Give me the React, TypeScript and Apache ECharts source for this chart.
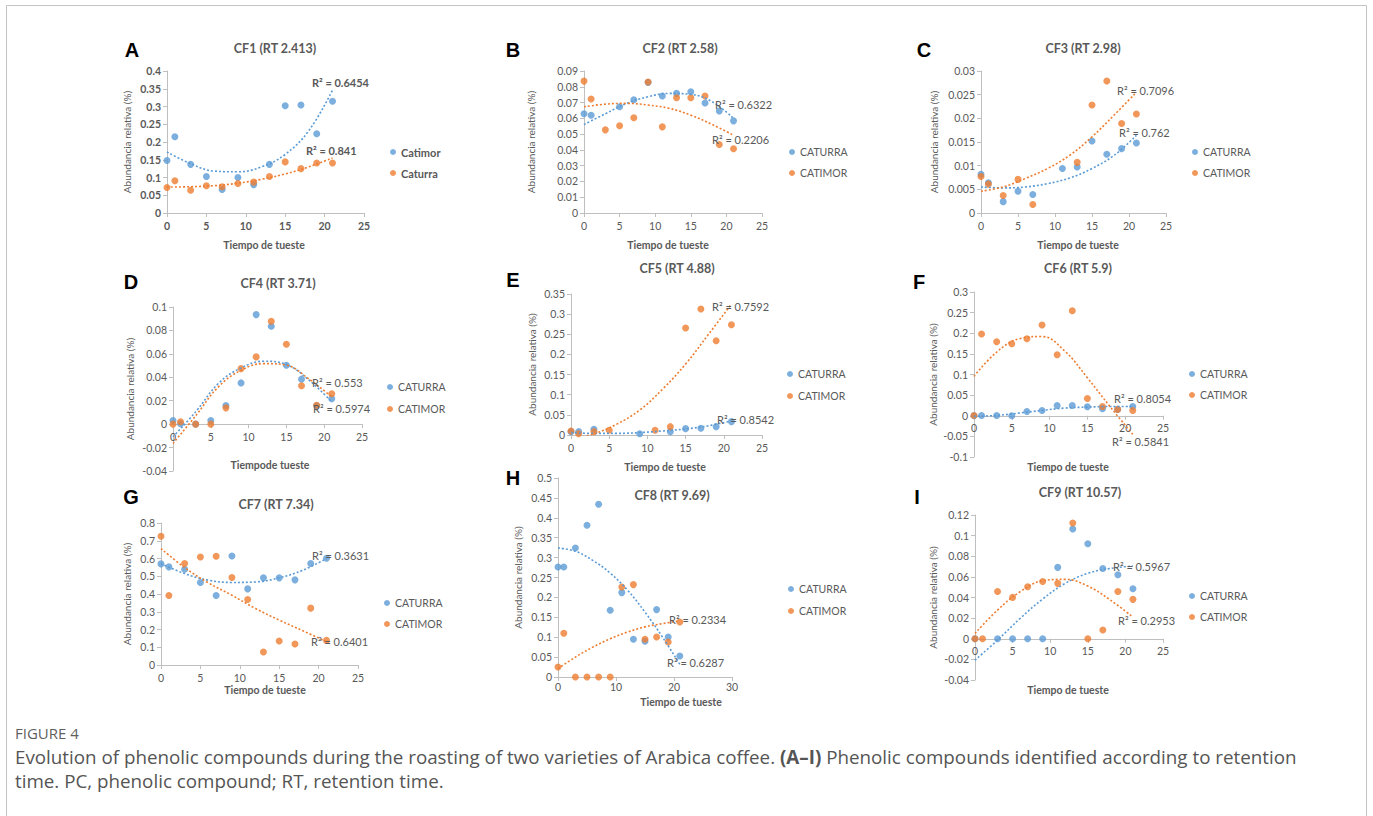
import React, { useEffect, useRef } from "react";
import * as echarts from "echarts";

// ---------- data ----------
const roastTimes = [0, 1, 3, 5, 7, 9, 11, 13, 15, 17, 19, 21];
const trendTimes = [0, 3, 6, 9, 12, 15, 18, 21];

// CF1 (A) – blue = Catimor, orange = Caturra
const cf1Catimor = [0.148, 0.215, 0.137, 0.103, 0.066, 0.1, 0.08, 0.137, 0.302, 0.304, 0.223, 0.315];
const cf1Caturra = [0.072, 0.091, 0.064, 0.077, 0.074, 0.083, 0.087, 0.103, 0.144, 0.125, 0.141, 0.141];
const cf1CatimorTrend = [0.172, 0.139, 0.118, 0.116, 0.13, 0.165, 0.232, 0.346];
const cf1CaturraTrend = [0.073, 0.074, 0.077, 0.084, 0.095, 0.11, 0.13, 0.155];

// CF2 (B)
const cf2Caturra = [0.0629, 0.062, null, 0.0673, 0.0718, 0.0828, 0.0741, 0.0758, 0.0769, 0.0697, 0.0646, 0.0584];
const cf2Catimor = [0.0836, 0.0722, 0.0527, 0.0553, 0.0604, 0.083, 0.0546, 0.0731, 0.0731, 0.0741, 0.0434, 0.0407];
const cf2CaturraTrend = [0.0561, 0.0629, 0.0695, 0.0737, 0.0758, 0.0752, 0.0705, 0.06];
const cf2CatimorTrend = [0.0673, 0.069, 0.0695, 0.0684, 0.0663, 0.062, 0.0561, 0.0493];

// CF3 (C)
const cf3Caturra = [0.0082, 0.0064, 0.0024, 0.0046, 0.0039, null, 0.0094, 0.0097, 0.0152, 0.0124, 0.0136, 0.0148];
const cf3Catimor = [0.0077, 0.0061, 0.0037, 0.0071, 0.0018, null, null, 0.0107, 0.0228, 0.0279, 0.0189, 0.0209];
const cf3CaturraTrend = [0.0055, 0.0053, 0.0055, 0.0062, 0.0074, 0.0094, 0.0122, 0.0164];
const cf3CatimorTrend = [0.0046, 0.0055, 0.0073, 0.0094, 0.0122, 0.0161, 0.0207, 0.0255];

// CF4 (D)
const cf4Caturra = [0.0031, 0.0003, 0, 0.0031, 0.0159, 0.0352, 0.0935, 0.0835, 0.0503, 0.0384, 0.0156, 0.0216];
const cf4Catimor = [0, 0.002, 0, 0, 0.0139, 0.0474, 0.0574, 0.0878, 0.0682, 0.0327, 0.0162, 0.0259];
const cf4CaturraTrend = [-0.0108, 0.0105, 0.0347, 0.048, 0.0537, 0.0509, 0.0375, 0.019];
const cf4CatimorTrend = [-0.0165, 0.0071, 0.0318, 0.046, 0.0517, 0.0503, 0.0384, 0.0233];

// CF5 (E)
const cf5Caturra = [0.0083, 0.0083, 0.0141, null, null, 0.0033, null, 0.0083, 0.0158, 0.0166, 0.0207, 0.0332];
const cf5Catimor = [0.01, 0.0033, 0.0083, 0.0116, null, null, 0.0116, 0.0207, 0.2654, 0.3127, 0.2339, 0.2737];
const cf5CaturraTrend = [0.006, 0.004, 0.004, 0.006, 0.01, 0.015, 0.023, 0.035];
const cf5CatimorTrend = [-0.01, 0.003, 0.027, 0.062, 0.114, 0.176, 0.25, 0.325];

// CF6 (F)
const cf6Caturra = [0, 0.0008, 0.0008, 0, 0.0105, 0.0129, 0.025, 0.025, 0.0218, 0.017, 0.0154, 0.0226];
const cf6Catimor = [0.0008, 0.198, 0.1795, 0.1747, 0.1868, 0.22, 0.148, 0.2547, 0.042, 0.0226, 0.0154, 0.0129];
const cf6CaturraTrend = [-0.0016, 0.0008, 0.0065, 0.013, 0.0186, 0.021, 0.0226, 0.0226];
const cf6CatimorTrend = [0.0954, 0.1544, 0.1868, 0.192, 0.157, 0.092, 0.022, -0.045];

// CF7 (G)
const cf7Caturra = [0.5696, 0.5527, 0.5396, 0.4646, 0.3916, 0.6145, 0.429, 0.4909, 0.4909, 0.4796, 0.5714, 0.6014];
const cf7Catimor = [0.725, 0.3916, 0.5714, 0.6089, 0.6126, 0.4927, 0.369, 0.073, 0.1349, 0.118, 0.3204, 0.1386];
const cf7CaturraTrend = [0.571, 0.515, 0.478, 0.465, 0.468, 0.491, 0.534, 0.6];
const cf7CatimorTrend = [0.656, 0.549, 0.463, 0.393, 0.318, 0.253, 0.193, 0.131];

// CF8 (H)
const cf8Caturra = [0.2765, 0.2765, 0.3243, 0.3813, 0.434, 0.1676, 0.212, 0.0947, 0.0897, 0.1693, 0.1006, 0.0528];
const cf8Catimor = [0.0251, 0.1098, 0, 0, 0, 0, 0.2263, 0.2321, 0.0947, 0.1006, 0.088, 0.1383];
const cf8CaturraTrend = [0.3243, 0.316, 0.293, 0.261, 0.218, 0.163, 0.1006, 0.032];
const cf8CatimorTrend = [0.021, 0.05, 0.075, 0.096, 0.113, 0.126, 0.134, 0.141];

// CF9 (I)
const cf9Caturra = [0, null, 0, 0, 0, 0, 0.0692, 0.1064, 0.0922, 0.0682, 0.0621, 0.0485];
const cf9Catimor = [0, 0, 0.0459, 0.0401, 0.0505, 0.0556, 0.0537, 0.1122, 0, 0.0084, 0.0459, 0.0382];
const cf9CaturraTrend = [-0.0207, -0.0013, 0.0197, 0.0385, 0.0537, 0.0634, 0.0682, 0.0705];
const cf9CatimorTrend = [0.0052, 0.0278, 0.0456, 0.0563, 0.0576, 0.0511, 0.0375, 0.021];

const panelLetters = ["A", "B", "C", "D", "E", "F", "G", "H", "I"];
const panelTitles = [
  "CF1 (RT 2.413)", "CF2 (RT 2.58)", "CF3 (RT 2.98)",
  "CF4 (RT 3.71)", "CF5 (RT 4.88)", "CF6 (RT 5.9)",
  "CF7 (RT 7.34)", "CF8 (RT 9.69)", "CF9 (RT 10.57)",
];
const xAxisNames = [
  "Tiempo de tueste", "Tiempo de tueste", "Tiempo de tueste",
  "Tiempode tueste", "Tiempo de tueste", "Tiempo de tueste",
  "Tiempo de tueste", "Tiempo de tueste", "Tiempo de tueste",
];
const yAxisName = "Abundancia relativa (%)";
const r2Blue = [0.6454, 0.6322, 0.762, 0.553, 0.8542, 0.8054, 0.3631, 0.6287, 0.5967];
const r2Orange = [0.841, 0.2206, 0.7096, 0.5974, 0.7592, 0.5841, 0.6401, 0.2334, 0.2953];
const blueNames = ["Catimor", "CATURRA", "CATURRA", "CATURRA", "CATURRA", "CATURRA", "CATURRA", "CATURRA", "CATURRA"];
const orangeNames = ["Caturra", "CATIMOR", "CATIMOR", "CATIMOR", "CATIMOR", "CATIMOR", "CATIMOR", "CATIMOR", "CATIMOR"];
const blueValues = [cf1Catimor, cf2Caturra, cf3Caturra, cf4Caturra, cf5Caturra, cf6Caturra, cf7Caturra, cf8Caturra, cf9Caturra];
const orangeValues = [cf1Caturra, cf2Catimor, cf3Catimor, cf4Catimor, cf5Catimor, cf6Catimor, cf7Catimor, cf8Catimor, cf9Catimor];
const blueTrends = [cf1CatimorTrend, cf2CaturraTrend, cf3CaturraTrend, cf4CaturraTrend, cf5CaturraTrend, cf6CaturraTrend, cf7CaturraTrend, cf8CaturraTrend, cf9CaturraTrend];
const orangeTrends = [cf1CaturraTrend, cf2CatimorTrend, cf3CatimorTrend, cf4CatimorTrend, cf5CatimorTrend, cf6CatimorTrend, cf7CatimorTrend, cf8CatimorTrend, cf9CatimorTrend];
const yMins = [0, 0, 0, -0.04, 0, -0.1, 0, 0, -0.04];
const yMaxs = [0.4, 0.09, 0.03, 0.1, 0.35, 0.3, 0.8, 0.5, 0.12];
const ySteps = [0.05, 0.01, 0.005, 0.02, 0.05, 0.05, 0.1, 0.05, 0.02];
const xMaxs = [25, 25, 25, 25, 25, 25, 25, 30, 25];
const xSteps = [5, 5, 5, 5, 5, 5, 5, 10, 5];

const captionLabel = "FIGURE 4";
const captionLine1a = "Evolution of phenolic compounds during the roasting of two varieties of Arabica coffee. ";
const captionLine1b = "(A–I)";
const captionLine1c = " Phenolic compounds identified according to retention";
const captionLine2 = "time. PC, phenolic compound; RT, retention time.";

// ---------- layout (pixels) ----------
const layouts = [
  { grid: [167, 71, 197, 142], letter: [132, 50], title: [275, 48], legend: [393, 152, 173], xName: [264, 245], xMargin: 7, yGap: 35, r2b: [312, 82], r2o: [306, 150] },
  { grid: [584, 71, 178, 142], letter: [513, 50], title: [680, 48], legend: [792, 152, 173], xName: [668, 245], xMargin: 7, yGap: 48, r2b: [715, 104], r2o: [712, 139] },
  { grid: [981, 71, 185, 142], letter: [924, 50], title: [1083, 48], legend: [1195, 152, 173], xName: [1078, 245], xMargin: 7, yGap: 42, r2b: [1119, 132], r2o: [1117, 90] },
  { grid: [173, 307, 189, 164], letter: [131, 282], title: [278, 283], legend: [390, 387, 409], xName: [270, 465], xMargin: 7, yGap: 38, r2b: [312, 382], r2o: [313, 408] },
  { grid: [571, 294, 191, 141], letter: [513, 280], title: [677, 268], legend: [790, 374, 396], xName: [665, 467], xMargin: 7, yGap: 34, r2b: [717, 419], r2o: [712, 306] },
  { grid: [974, 292, 189, 165], letter: [919, 282], title: [1078, 268], legend: [1192, 374, 395], xName: [1068, 467], xMargin: 7, yGap: 36, r2b: [1114, 398], r2o: [1112, 441] },
  { grid: [161, 523, 197, 142], letter: [131, 497], title: [276, 504], legend: [387, 603, 624], xName: [265, 690], xMargin: 7, yGap: 29, r2b: [312, 555], r2o: [311, 641] },
  { grid: [558, 478, 174, 199], letter: [513, 478], title: [672, 495], legend: [791, 589, 611], xName: [681, 702], xMargin: 4, yGap: 35, r2b: [667, 662], r2o: [669, 619] },
  { grid: [975, 515, 188, 165], letter: [917, 497], title: [1080, 492], legend: [1192, 596, 617], xName: [1068, 690], xMargin: 7, yGap: 37, r2b: [1113, 566], r2o: [1118, 620] },
];

const BLUE = "#5B9BD5";
const ORANGE = "#ED7D31";
const GRAY = "#595959";
const AXIS = "#bfbfbf";
const FONT = "Lato, 'Open Sans', sans-serif";
const CAPFONT = "'Open Sans', 'Noto Sans', sans-serif";

function pairs(xs: number[], ys: (number | null)[]) {
  const out: number[][] = [];
  xs.forEach((x, k) => {
    const v = ys[k];
    if (v !== null && v !== undefined) out.push([x, v]);
  });
  return out;
}

function buildOption() {
  const grid: any[] = [];
  const xAxis: any[] = [];
  const yAxis: any[] = [];
  const series: any[] = [];
  const legend: any[] = [];
  const graphic: any[] = [];

  graphic.push({
    type: "rect",
    shape: { x: 6.5, y: 5.5, width: 1360, height: 900 },
    style: { fill: "none", stroke: "#c4c4c4", lineWidth: 1 },
    silent: true,
  });

  layouts.forEach((L, i) => {
    const bold = i === 0;
    const h = L.grid[3];
    // the x axis sits on the zero line of the value axis (like Excel does)
    const zeroLift = yMins[i] < 0 ? (h * (0 - yMins[i])) / (yMaxs[i] - yMins[i]) : 0;
    grid.push({ left: L.grid[0], top: L.grid[1], width: L.grid[2], height: h });
    xAxis.push({
      type: "value",
      gridIndex: i,
      min: 0,
      max: xMaxs[i],
      interval: xSteps[i],
      offset: -zeroLift,
      splitLine: { show: false },
      axisLine: { show: true, onZero: false, lineStyle: { color: AXIS, width: 1 } },
      axisTick: { show: true, length: 4, lineStyle: { color: AXIS } },
      axisLabel: { color: GRAY, fontSize: 10.5, fontFamily: FONT, margin: L.xMargin, fontWeight: bold ? "bold" : "normal" },
    });
    yAxis.push({
      type: "value",
      gridIndex: i,
      min: yMins[i],
      max: yMaxs[i],
      interval: ySteps[i],
      name: yAxisName,
      nameLocation: "middle",
      nameGap: L.yGap,
      nameTextStyle: { color: GRAY, fontSize: 10, fontFamily: FONT },
      splitLine: { show: false },
      axisLine: { show: true, lineStyle: { color: AXIS, width: 1 } },
      axisTick: { show: true, length: 4, lineStyle: { color: AXIS } },
      axisLabel: { color: GRAY, fontSize: 10.5, fontFamily: FONT, margin: 6, fontWeight: bold ? "bold" : "normal" },
    });

    series.push({
      type: "scatter",
      name: blueNames[i],
      xAxisIndex: i,
      yAxisIndex: i,
      data: pairs(roastTimes, blueValues[i]),
      symbolSize: 7,
      itemStyle: { color: BLUE },
      z: 2,
    });
    series.push({
      type: "scatter",
      name: orangeNames[i],
      xAxisIndex: i,
      yAxisIndex: i,
      data: pairs(roastTimes, orangeValues[i]),
      symbolSize: 7,
      itemStyle: { color: ORANGE },
      z: 2,
    });
    [
      [blueTrends[i], BLUE, "trend-b-" + i],
      [orangeTrends[i], ORANGE, "trend-o-" + i],
    ].forEach(([t, c, n]: any) => {
      series.push({
        type: "line",
        name: n,
        xAxisIndex: i,
        yAxisIndex: i,
        data: pairs(trendTimes, t),
        smooth: 0.4,
        symbol: "none",
        clip: true,
        silent: true,
        lineStyle: { color: c, width: 1.6, type: [2, 2] },
        z: 3,
      });
    });

    const itemH = 14;
    legend.push({
      orient: "vertical",
      left: L.legend[0] - 3,
      top: L.legend[1] - itemH / 2,
      padding: 0,
      itemWidth: 6,
      itemHeight: 6,
      itemGap: L.legend[2] - L.legend[1] - itemH,
      icon: "circle",
      selectedMode: false,
      data: [blueNames[i], orangeNames[i]],
      textStyle: {
        color: GRAY,
        fontSize: bold ? 11 : 10.5,
        fontWeight: bold ? "bold" : "normal",
        fontFamily: FONT,
        lineHeight: itemH,
      },
    });

    graphic.push({
      type: "text",
      x: L.letter[0],
      y: L.letter[1],
      style: { text: panelLetters[i], fill: "#000", font: "bold 20px 'Liberation Sans', Arial, sans-serif", align: "center", verticalAlign: "middle" },
      silent: true,
    });
    graphic.push({
      type: "text",
      x: L.title[0],
      y: L.title[1],
      style: { text: panelTitles[i], fill: GRAY, font: "bold 12.5px " + FONT, align: "center", verticalAlign: "middle" },
      silent: true,
    });
    graphic.push({
      type: "text",
      x: L.xName[0],
      y: L.xName[1],
      style: { text: xAxisNames[i], fill: GRAY, font: "bold 10.5px " + FONT, align: "center", verticalAlign: "middle" },
      silent: true,
    });
    graphic.push({
      type: "text",
      x: L.r2b[0],
      y: L.r2b[1],
      style: { text: "R² = " + r2Blue[i], fill: GRAY, font: (bold ? "bold " : "") + "11px " + FONT, align: "left", verticalAlign: "middle" },
      silent: true,
      z: 10,
    });
    graphic.push({
      type: "text",
      x: L.r2o[0],
      y: L.r2o[1],
      style: { text: "R² = " + r2Orange[i], fill: GRAY, font: (bold ? "bold " : "") + "11px " + FONT, align: "left", verticalAlign: "middle" },
      silent: true,
      z: 10,
    });
  });

  const capSize = 18.8;
  graphic.push({
    type: "text",
    x: 15,
    y: 733,
    style: { text: captionLabel, fill: "#5f5f5f", font: "15px " + CAPFONT, align: "left", verticalAlign: "middle" },
    silent: true,
  });
  graphic.push({
    type: "text",
    x: 15,
    y: 757,
    style: {
      text: "{n|" + captionLine1a + "}{b|" + captionLine1b + "}{n|" + captionLine1c + "}",
      fill: "#555555",
      font: capSize + "px " + CAPFONT,
      align: "left",
      verticalAlign: "middle",
      rich: {
        n: { fill: "#555555", fontSize: capSize, fontFamily: CAPFONT },
        b: { fill: "#555555", fontSize: capSize, fontFamily: CAPFONT, fontWeight: "bold" },
      },
    },
    silent: true,
  });
  graphic.push({
    type: "text",
    x: 15,
    y: 781,
    style: { text: captionLine2, fill: "#555555", font: capSize + "px " + CAPFONT, align: "left", verticalAlign: "middle" },
    silent: true,
  });

  return {
    animation: false,
    backgroundColor: "#ffffff",
    textStyle: { fontFamily: FONT },
    grid,
    xAxis,
    yAxis,
    legend,
    series,
    graphic,
  };
}

export default function App() {
  const ref = useRef<HTMLDivElement>(null);
  useEffect(() => {
    if (!ref.current) return;
    const chart = echarts.init(ref.current, null, { renderer: "svg" });
    chart.setOption(buildOption() as any);
    return () => chart.dispose();
  }, []);
  return (
    <div
      ref={ref}
      style={{ position: "absolute", left: 0, top: 0, width: 1373, height: 816, background: "#fff" }}
    />
  );
}
